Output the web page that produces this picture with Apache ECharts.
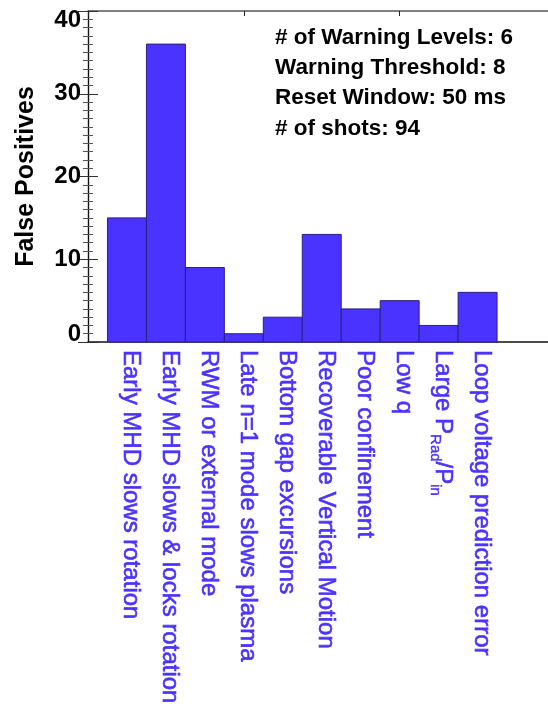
<!DOCTYPE html>
<html>
<head>
<meta charset="utf-8">
<script src="https://cdn.jsdelivr.net/npm/echarts@6/dist/echarts.min.js"></script>
<style>html,body{margin:0;padding:0;background:#fff;}#c{width:548px;height:713px;}</style>
</head>
<body>
<div id="c"></div>
<script>
// ---- data ----
const categories = [
  'Early MHD slows rotation',
  'Early MHD slows & locks rotation',
  'RWM or external mode',
  'Late n=1 mode slows plasma',
  'Bottom gap excursions',
  'Recoverable Vertical Motion',
  'Poor confinement',
  'Low q',
  'Large P_Rad/P_in',
  'Loop voltage prediction error'
];
const falsePositives = [15, 36, 9, 1, 3, 13, 4, 5, 2, 6];
const yTicks = [0, 10, 20, 30, 40];
const annotations = [
  '# of Warning Levels: 6',
  'Warning Threshold: 8',
  'Reset Window: 50 ms',
  '# of shots: 94'
];

const BLUE = '#4a32ff';
const FONT = '"Liberation Sans", Arial, Helvetica, sans-serif';

const chart = echarts.init(document.getElementById('c'), null, {renderer: 'canvas'});

function labelRich(name) {
  if (name.indexOf('_') >= 0) {
    return '{m|Large P}{s|Rad}{m|/P}{s|in}';
  }
  return '{m|' + name + '}';
}

const barData = falsePositives.map((v, i) => [i + 1, v]);
const yMin = yTicks[0], yMax = yTicks[yTicks.length - 1];

const option = {
  animation: false,
  backgroundColor: '#fff',
  grid: {left: 88, top: 11, width: 467.5, bottom: 371, containLabel: false, outerBoundsMode: 'none'},
  xAxis: [
    {
      type: 'value', position: 'bottom', min: 0, max: 12, interval: 1,
      axisLine: {show: true, onZero: false, lineStyle: {color: '#111', width: 1.5}},
      axisTick: {show: false},
      splitLine: {show: false},
      axisLabel: {
        show: true, rotate: -90, margin: 8, hideOverlap: false,
        showMinLabel: true, showMaxLabel: true,
        padding: [0, 0, 8, 0],
        formatter: function (v) {
          const idx = Math.round(v) - 1;
          if (idx >= 0 && idx < categories.length) return labelRich(categories[idx]);
          return '';
        },
        rich: {
          m: {fontSize: 24, fontFamily: FONT, color: BLUE, lineHeight: 24, verticalAlign: 'top',
              textBorderColor: BLUE, textBorderWidth: 0.6},
          s: {fontSize: 15, fontFamily: FONT, color: BLUE, lineHeight: 15, verticalAlign: 'top',
              padding: [12, 0, 0, 0], textBorderColor: BLUE, textBorderWidth: 0.4}
        }
      }
    },
    {
      type: 'value', position: 'top', min: 0, max: 12, interval: 4,
      axisLine: {show: true, onZero: false, lineStyle: {color: '#555', width: 1.5}},
      axisTick: {show: true, inside: true, length: 5, lineStyle: {color: '#222'}},
      axisLabel: {show: false},
      splitLine: {show: false}
    }
  ],
  yAxis: [
    {
      type: 'value', position: 'left', min: yMin, max: yMax, interval: 10,
      name: 'False Positives', nameLocation: 'middle', nameGap: 49,
      nameTextStyle: {fontSize: 25, fontWeight: 'bold', fontFamily: FONT, color: '#000'},
      axisLine: {show: true, lineStyle: {color: '#111', width: 1.2}},
      axisTick: {show: true, inside: true, length: 10, lineStyle: {color: '#333'}},
      minorTick: {show: true, splitNumber: 10, length: 5, lineStyle: {color: '#555'}},
      splitLine: {show: false},
      axisLabel: {
        margin: 7,
        verticalAlignMinLabel: 'bottom', verticalAlignMaxLabel: 'top',
        formatter: function (v) {
          if (v === yMin) return '{lo|' + v + '}';
          if (v === yMax) return '{hi|' + v + '}';
          return '{n|' + v + '}';
        },
        rich: {
          lo: {fontSize: 24, fontWeight: 'bold', fontFamily: FONT, color: '#000', lineHeight: 15},
          hi: {fontSize: 24, fontWeight: 'bold', fontFamily: FONT, color: '#000', lineHeight: 15, padding: [3, 0, 0, 0]},
          n: {fontSize: 24, fontWeight: 'bold', fontFamily: FONT, color: '#000', lineHeight: 24}
        }
      }
    },
    {
      type: 'value', position: 'right', min: yMin, max: yMax, interval: 10,
      axisLine: {show: true, lineStyle: {color: '#111', width: 1.2}},
      axisTick: {show: true, inside: true, length: 10, lineStyle: {color: '#333'}},
      minorTick: {show: true, splitNumber: 10, length: 5, lineStyle: {color: '#555'}},
      splitLine: {show: false},
      axisLabel: {show: false}
    }
  ],
  series: [
    {
      type: 'custom',
      xAxisIndex: 0, yAxisIndex: 0,
      data: barData,
      renderItem: function (params, api) {
        const x = api.value(0), v = api.value(1);
        const p0 = api.coord([x - 0.5, 0]);
        const p1 = api.coord([x + 0.5, v]);
        return {
          type: 'rect',
          shape: {x: p0[0], y: p1[1], width: p1[0] - p0[0], height: p0[1] - p1[1]},
          style: {fill: BLUE, stroke: '#2a2080', lineWidth: 1}
        };
      },
      z: 3
    }
  ],
  graphic: annotations.map((t, i) => ({
    type: 'text', left: 275, top: 26 + i * 30.3, z: 10,
    style: {text: t, fontSize: 22.5, fontWeight: 'bold', fontFamily: FONT, fill: '#000'}
  }))
};
chart.setOption(option);
</script>
</body>
</html>
